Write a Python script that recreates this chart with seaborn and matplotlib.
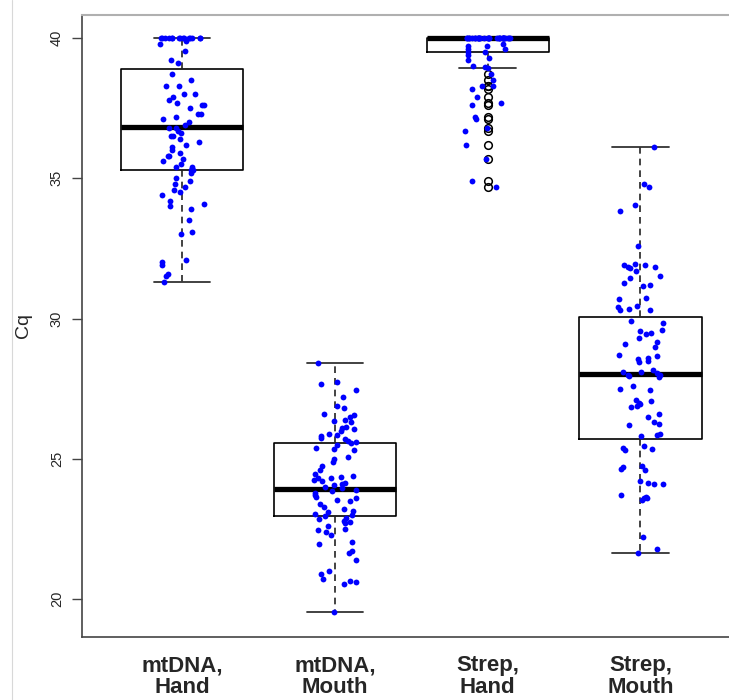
import numpy as np
import pandas as pd
import matplotlib
matplotlib.use("Agg")
import matplotlib.pyplot as plt
from matplotlib.lines import Line2D
import seaborn as sns

groups = ["mtDNA, Hand", "mtDNA, Mouth", "Strep, Hand", "Strep, Mouth"]
tick_labels = ["mtDNA,\nHand", "mtDNA,\nMouth", "Strep,\nHand", "Strep,\nMouth"]

mt_hand = [40.0] * 15 + [
    39.9, 39.8, 39.55, 39.2, 39.1, 38.7, 38.5, 38.3, 38.3, 38.0, 38.0, 37.9, 37.8,
    37.7, 37.6, 37.6, 37.5, 37.3, 37.3, 37.2, 37.1, 37.0, 36.9, 36.8, 36.8, 36.7,
    36.6, 36.5, 36.5, 36.4, 36.3, 36.2, 36.1, 36.0, 35.9, 35.8, 35.8, 35.7, 35.6,
    35.5, 35.4, 35.4, 35.3, 35.3, 35.2, 35.0, 34.9, 34.8, 34.7, 34.6, 34.5, 34.4,
    34.2, 34.1, 34.0, 33.9, 33.5, 33.1, 33.0, 32.1, 32.0, 31.9, 31.6, 31.5, 31.3]

mt_mouth = [
    28.4, 27.75, 27.65, 27.45, 27.2, 26.9, 26.8, 26.6, 26.55, 26.5, 26.4, 26.35,
    26.3, 26.15, 26.1, 26.05, 26.0, 25.9, 25.85, 25.8, 25.75, 25.7, 25.65, 25.6,
    25.55, 25.5, 25.4, 25.35, 25.3, 25.05, 25.0, 24.9, 24.75, 24.6, 24.45, 24.4,
    24.35, 24.3, 24.3, 24.25, 24.2, 24.15, 24.1, 24.05, 24.0, 23.95, 23.9, 23.85,
    23.8, 23.7, 23.65, 23.6, 23.55, 23.5, 23.4, 23.3, 23.2, 23.15, 23.1, 23.05,
    23.0, 22.95, 22.9, 22.85, 22.8, 22.75, 22.7, 22.6, 22.5, 22.45, 22.4, 22.3,
    22.05, 21.95, 21.7, 21.65, 21.4, 21.0, 20.9, 20.7, 20.65, 20.6, 20.55, 19.55]

strep_hand = [40.0] * 30 + [
    39.8, 39.7, 39.7, 39.6, 39.6, 39.5, 39.5, 39.4, 39.3, 39.2, 39.0, 38.95, 38.93,
    38.7, 38.5, 38.3, 38.3, 38.2, 37.9, 37.7, 37.6, 37.2, 37.1, 36.8, 36.7, 36.2,
    35.7, 34.9, 34.7]

strep_mouth = [
    36.1, 34.8, 34.7, 34.05, 33.85, 32.6, 31.95, 31.9, 31.9, 31.85, 31.85, 31.8,
    31.7, 31.5, 31.45, 31.25, 31.2, 31.15, 30.75, 30.7, 30.45, 30.4, 30.35, 30.3,
    30.3, 29.9, 29.85, 29.6, 29.55, 29.5, 29.45, 29.3, 29.15, 29.1, 29.0, 28.7,
    28.65, 28.6, 28.55, 28.5, 28.45, 28.15, 28.1, 28.1, 28.05, 28.0, 28.0, 27.95,
    27.9, 27.6, 27.5, 27.45, 27.1, 27.05, 27.0, 26.95, 26.9, 26.85, 26.6, 26.5,
    26.3, 26.25, 26.2, 25.9, 25.85, 25.8, 25.45, 25.4, 25.35, 25.3, 24.75, 24.7,
    24.65, 24.6, 24.2, 24.15, 24.1, 24.1, 23.7, 23.65, 23.6, 23.6, 23.55, 22.2,
    21.8, 21.65]

# box summary
q1 = [35.3, 22.96, 39.5, 25.7]
med = [36.83, 23.92, 40.0, 28.02]
q3 = [38.9, 25.56, 40.0, 30.05]
whislo = [31.3, 19.55, 38.93, 21.65]
whishi = [40.0, 28.4, 40.0, 36.1]

values = [mt_hand, mt_mouth, strep_hand, strep_mouth]
df = pd.DataFrame({
    "group": np.repeat(groups, [len(v) for v in values]),
    "Cq": np.concatenate(values),
})

stats = []
for i, v in enumerate(values):
    fl = [x for x in v if x < whislo[i] - 1e-6 or x > whishi[i] + 1e-6]
    stats.append(dict(med=med[i], q1=q1[i], q3=q3[i], whislo=whislo[i],
                      whishi=whishi[i], fliers=fl))

sns.set_style("white")
plt.rcParams["font.family"] = ["Liberation Sans", "DejaVu Sans"]

fig = plt.figure(figsize=(7.29, 7.0), dpi=100)
ax = fig.add_axes([82 / 729, 63 / 700, 1 - 82 / 729, (637 - 15) / 700])

ax.bxp(stats, positions=range(4), widths=0.8, capwidths=0.37,
       boxprops=dict(color="black", linewidth=1.2),
       medianprops=dict(color="black", linewidth=3.8, solid_capstyle="butt"),
       whiskerprops=dict(color="#222222", linewidth=1.2, linestyle=(0, (4, 3))),
       capprops=dict(color="#333333", linewidth=1.3),
       flierprops=dict(marker="o", markerfacecolor="none", markeredgecolor="black",
                       markersize=5.5, markeredgewidth=1.1),
       manage_ticks=False)

np.random.seed(3)
sns.stripplot(data=df, x="group", y="Cq", order=groups, color="#0000FF",
              size=4.2, jitter=0.15, linewidth=0, ax=ax, zorder=5)

ax.set_xlim(-0.655, 3.58)
ax.set_ylim(18.65, 40.82)
ax.set_yticks([20, 25, 30, 35, 40])
ax.set_yticklabels(["20", "25", "30", "35", "40"], rotation=90, va="center",
                   fontsize=10.5)
ax.tick_params(axis="y", length=7, width=1, color="#444444", pad=6, left=True)
ax.set_xticks(range(4))
ax.set_xticklabels(tick_labels, fontsize=16, fontweight="bold", linespacing=1.05)
ax.tick_params(axis="x", length=0, pad=13)
ax.set_xlabel("")
ax.set_ylabel("Cq", fontsize=14, labelpad=13)

ax.spines["right"].set_visible(False)
ax.spines["top"].set_color("#b0b0b0")
ax.spines["top"].set_linewidth(1.5)
for s in ["left", "bottom"]:
    ax.spines[s].set_color("#444444")
    ax.spines[s].set_linewidth(1.2)

fig.add_artist(Line2D([12 / 729, 12 / 729], [0, 1], color="#d8d8d8", lw=0.8))

fig.savefig("out.png", dpi=100)
